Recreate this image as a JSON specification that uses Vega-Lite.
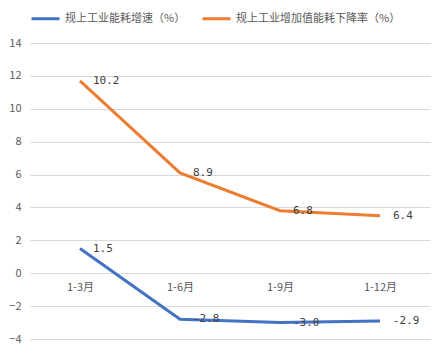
{
  "$schema": "https://vega.github.io/schema/vega-lite/v6.json",
  "width": 400,
  "height": 296,
  "autosize": {"type": "none"},
  "padding": {"left": 30, "top": 43, "right": 16, "bottom": 16},
  "background": "white",
  "config": {
    "view": {"stroke": null},
    "font": "Noto Sans CJK SC"
  },
  "data": {
    "values": [
      {"period": "1-3月", "series": "规上工业能耗增速（%）", "value": 1.5, "label": "1.5"},
      {"period": "1-6月", "series": "规上工业能耗增速（%）", "value": -2.8, "label": "-2.8"},
      {"period": "1-9月", "series": "规上工业能耗增速（%）", "value": -3.0, "label": "-3.0"},
      {"period": "1-12月", "series": "规上工业能耗增速（%）", "value": -2.9, "label": "-2.9"},
      {"period": "1-3月", "series": "规上工业增加值能耗下降率（%）", "value": 11.7, "label": "10.2"},
      {"period": "1-6月", "series": "规上工业增加值能耗下降率（%）", "value": 6.1, "label": "8.9"},
      {"period": "1-9月", "series": "规上工业增加值能耗下降率（%）", "value": 3.8, "label": "6.8"},
      {"period": "1-12月", "series": "规上工业增加值能耗下降率（%）", "value": 3.5, "label": "6.4"}
    ]
  },
  "encoding": {
    "x": {
      "field": "period",
      "type": "ordinal",
      "sort": ["1-3月", "1-6月", "1-9月", "1-12月"],
      "scale": {"type": "point", "padding": 0.5},
      "axis": {
        "title": null,
        "domain": false,
        "ticks": false,
        "labelAngle": 0,
        "labelColor": "#595959",
        "labelFontSize": 11,
        "labelPadding": 8,
        "offset": -66
      }
    },
    "y": {
      "field": "value",
      "type": "quantitative",
      "scale": {"domain": [-4, 14], "nice": false, "zero": false},
      "axis": {
        "title": null,
        "values": [-4, -2, 0, 2, 4, 6, 8, 10, 12, 14],
        "domain": false,
        "ticks": false,
        "labelColor": "#595959",
        "labelFontSize": 11,
        "labelPadding": 9,
        "gridColor": "#d9d9d9",
        "gridWidth": 1
      }
    },
    "color": {
      "field": "series",
      "type": "nominal",
      "scale": {
        "domain": ["规上工业能耗增速（%）", "规上工业增加值能耗下降率（%）"],
        "range": ["#4472C4", "#ED7D31"]
      },
      "legend": {
        "title": null,
        "orient": "top",
        "direction": "horizontal",
        "offset": 18,
        "symbolType": "stroke",
        "symbolSize": 784,
        "symbolStrokeWidth": 3,
        "labelFontSize": 11,
        "labelColor": "#595959",
        "labelOffset": 4,
        "labelLimit": 0,
        "columnPadding": 10
      }
    }
  },
  "layer": [
    {"mark": {"type": "line", "strokeWidth": 3}},
    {
      "mark": {"type": "text", "align": "left", "baseline": "middle", "dx": 13, "font": "DejaVu Sans Mono", "fontSize": 11, "color": "#404040"},
      "encoding": {"text": {"field": "label"}, "color": {"value": "#404040"}}
    }
  ]
}
